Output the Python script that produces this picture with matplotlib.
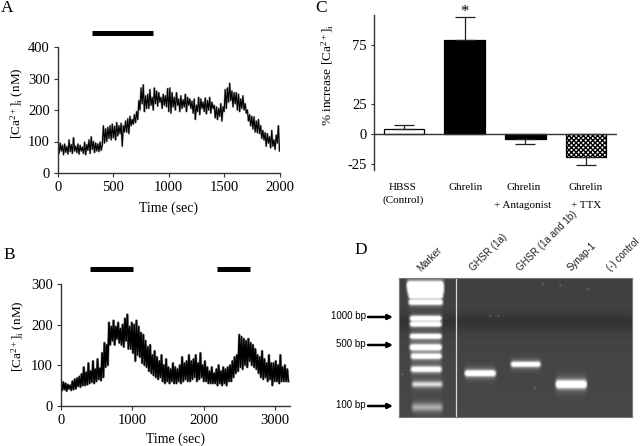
import numpy as np
import matplotlib
matplotlib.use('Agg')
import matplotlib.pyplot as plt

plt.rcParams['font.family'] = ['Liberation Serif', 'DejaVu Serif']
plt.rcParams['mathtext.fontset'] = 'custom'
plt.rcParams['mathtext.rm'] = 'Liberation Serif'
plt.rcParams['mathtext.it'] = 'Liberation Serif'
plt.rcParams['hatch.linewidth'] = 1.0

W, H = 640, 446
AXIS_COL = '#333333'

# panel A trace, one value every 10 s
a_step = 10
a_vals = [100, 62, 95, 70, 88, 58, 92, 66, 84, 60, 105,
          68, 90, 62, 112, 70, 85, 65, 92, 60, 88,
          70, 82, 62, 98, 58, 90, 72, 105, 62, 115,
          75, 100, 65, 95, 70, 92, 68, 98, 72, 88,
          150, 95, 140, 100, 145, 110, 150, 105, 155, 112,
          148, 105, 160, 118, 150, 125, 158, 85, 150, 130,
          165, 130, 172, 125, 180, 150, 170, 155, 185, 160,
          195, 170, 230, 200, 270, 220, 280, 195, 245, 205,
          250, 205, 265, 215, 240, 200, 270, 220, 260, 212,
          255, 225, 240, 205, 250, 215, 245, 210, 268, 195,
          270, 190, 255, 210, 240, 200, 255, 215, 235, 195,
          245, 205, 232, 210, 250, 195, 240, 215, 235, 205,
          228, 190, 235, 170, 215, 195, 240, 185, 235, 205,
          225, 195, 238, 188, 230, 200, 240, 190, 225, 205,
          215, 175, 210, 170, 205, 180, 220, 165, 210, 195,
          265, 205, 270, 225, 285, 230, 260, 210, 255, 220,
          255, 200, 250, 195, 235, 205, 245, 200, 220, 190,
          200, 165, 185, 150, 180, 140, 178, 130, 165, 128,
          170, 125, 150, 110, 135, 105, 128, 85, 125, 95,
          115, 80, 135, 85, 105, 75, 120, 95, 150, 70]
a_bars = [(310, 860)]

# panel B trace, one value every 16 s
b_step = 16
b_vals = [62, 38, 58, 40, 55, 36, 52, 42, 50, 38,
          60, 40, 65, 42, 68, 48, 72, 46, 78, 50,
          95, 50, 82, 52, 105, 55, 85, 58, 110, 55,
          90, 60, 115, 65, 92, 62, 130, 70, 155, 95,
          150, 100, 205, 150, 195, 160, 210, 150, 195, 165,
          205, 155, 190, 150, 200, 145, 215, 160, 225, 140,
          195, 140, 205, 130, 200, 110, 210, 125, 195, 120,
          180, 105, 175, 100, 160, 95, 145, 85, 150, 80,
          125, 75, 135, 70, 120, 65, 110, 70, 125, 60,
          100, 55, 115, 60, 95, 55, 90, 60, 105, 55,
          95, 55, 90, 60, 100, 55, 120, 60, 105, 65,
          110, 60, 125, 60, 110, 65, 115, 70, 125, 60,
          105, 65, 130, 70, 100, 60, 110, 60, 95, 55,
          85, 55, 95, 55, 80, 55, 90, 50, 100, 55,
          85, 50, 95, 55, 90, 50, 95, 60, 100, 60,
          110, 70, 120, 80, 125, 85, 175, 95, 170, 90,
          165, 100, 160, 95, 165, 110, 155, 100, 150, 95,
          140, 90, 125, 80, 120, 70, 135, 65, 115, 70,
          105, 60, 125, 65, 105, 50, 105, 60, 110, 60,
          100, 55, 125, 60, 95, 60, 100, 60, 90, 60]
b_bars = [(410, 1010), (2190, 2640)]

# panel C
c_labels = ['HBSS', 'Ghrelin', 'Ghrelin', 'Ghrelin']
c_vals = [4.5, 79, -3.6, -19]
c_errs = [3.5, 19, 4.4, 6.5]

# panel D, gel bands: (x left, x right, y, half height, brightness)
marker_bands = [(405, 445, 285, 4.0, 1.0), (406, 445, 291, 3.0, 0.9),
                (407, 444, 296, 1.8, 0.8), (407, 444, 302, 2.4, 0.95),
                (408, 443, 318, 2.4, 0.9), (408, 443, 324, 2.3, 0.9),
                (408, 443, 336, 2.4, 0.9), (408, 443, 347, 2.8, 0.95),
                (409, 443, 356, 2.6, 0.85), (409, 443, 369, 2.8, 0.8),
                (410, 444, 384, 3.0, 0.5), (410, 444, 407, 4.0, 0.33)]
sample_bands = [(463, 497, 373, 2.8, 0.95), (509, 542, 364, 2.6, 0.8),
                (554, 588, 384, 3.6, 1.0)]
speckles = [(543, 284), (560, 285), (588, 289), (498, 316), (490, 316),
            (402, 374), (535, 388)]
size_labels = ['1000 bp', '500 bp', '100 bp']
size_y = [317, 345, 406]
lane_labels = ['Marker', 'GHSR (1a)', 'GHSR (1a and 1b)', 'Synap-1', '(-) control']
lane_x = [423, 475, 522, 573, 612]


def px_axes(x0, x1, y_top, y_bot):
    return fig.add_axes([x0 / W, 1 - y_bot / H, (x1 - x0) / W, (y_bot - y_top) / H])


def style(ax):
    for s in ['top', 'right']:
        ax.spines[s].set_visible(False)
    for s in ['left', 'bottom']:
        ax.spines[s].set_color(AXIS_COL)
        ax.spines[s].set_linewidth(1.0)
    ax.tick_params(color=AXIS_COL, length=3, width=0.8, labelsize=10.5, pad=3)


fig = plt.figure(figsize=(W / 100, H / 100), dpi=100)

# A
ax_a = px_axes(58, 279.5, 47, 173)
ax_a.plot(np.arange(len(a_vals)) * a_step, a_vals, color='#555555', lw=1.5, alpha=0.5)
ax_a.plot(np.arange(len(a_vals)) * a_step, a_vals, color='black', lw=0.8)
ax_a.set_xlim(0, 2000)
ax_a.set_ylim(0, 400)
ax_a.set_xticks([0, 500, 1000, 1500, 2000])
ax_a.set_yticks([0, 100, 200, 300, 400])
style(ax_a)
ax_a.set_xlabel('Time (sec)', fontsize=10, labelpad=5)
for b in a_bars:
    ax_a.plot(b, [443, 443], color='black', lw=3.6, solid_capstyle='butt', clip_on=False)

# B
ax_b = px_axes(61, 289.5, 284, 405.7)
ax_b.plot(np.arange(len(b_vals)) * b_step, b_vals, color='#444444', lw=1.8, alpha=0.6)
ax_b.plot(np.arange(len(b_vals)) * b_step, b_vals, color='black', lw=1.1)
ax_b.set_xlim(0, 3200)
ax_b.set_ylim(0, 300)
ax_b.set_xticks([0, 1000, 2000, 3000])
ax_b.set_yticks([0, 100, 200, 300])
style(ax_b)
ax_b.set_xlabel('Time (sec)', fontsize=10, labelpad=4)
for b in b_bars:
    ax_b.plot(b, [337, 337], color='black', lw=3.6, solid_capstyle='butt', clip_on=False)

# C
ax_c = px_axes(374, 617, 15, 170)
xpos = [0, 1, 2, 3]
ax_c.bar(xpos[0], c_vals[0], 0.667, color='white', edgecolor='black', lw=0.9)
ax_c.bar(xpos[1], c_vals[1], 0.667, color='black', edgecolor='black', lw=0.9)
ax_c.bar(xpos[2], c_vals[2], 0.667, color='black', edgecolor='black', lw=0.9)
ax_c.bar(xpos[3], c_vals[3], 0.667, color='white', edgecolor='black', lw=0.9, hatch='xxxxxxx')
for x, v, e in zip(xpos, c_vals, c_errs):
    sign = 1 if v > 0 else -1
    ax_c.errorbar(x, v, yerr=[[e if sign < 0 else 0], [e if sign > 0 else 0]], color='#222222',
                  capsize=7.5, elinewidth=0.9, capthick=0.9)
ax_c.axhline(0, color=AXIS_COL, lw=1.0)
ax_c.text(1, 102.5, '*', ha='center', va='center', fontsize=12)
ax_c.set_xlim(-0.494, 3.51)
ax_c.set_ylim(-30, 100)
ax_c.set_yticks([-25, 0, 25, 75])
ax_c.set_yticklabels(['-25', '0', '25', '75'])
ax_c.set_xticks([])
style(ax_c)
ax_c.spines['bottom'].set_visible(False)
ax_c.tick_params(axis='y', length=2, labelsize=10.5)

# D
gel_x0, gel_x1, gel_y0, gel_y1 = 399, 632, 278, 417
xx, yy = np.meshgrid(np.arange(gel_x0, gel_x1, 0.5), np.arange(gel_y0, gel_y1, 0.5))
gel = 0.25 - 0.06 * np.exp(-((yy - 322) / 9.0) ** 2) + 0.03 * (yy - gel_y0) / (gel_y1 - gel_y0)
for x0, x1, y, hh, level in marker_bands + sample_bands:
    edge = np.clip((xx - x0) / 4, 0, 1) * np.clip((x1 - xx) / 4, 0, 1)
    # bright core plus a soft grey halo round each band
    gel = gel + level * edge * np.exp(-((yy - y) / hh) ** 2)
    gel = gel + 0.22 * level * edge * np.exp(-((yy - y) / (hh * 2.2)) ** 2)
for x, y in speckles:
    gel = gel + 0.2 * np.exp(-((xx - x) ** 2 + (yy - y) ** 2) / 1.0)
ax_d = px_axes(gel_x0, gel_x1, gel_y0, gel_y1)
ax_d.imshow(np.clip(gel, 0, 1), cmap='gray', vmin=0, vmax=1, aspect='auto',
            extent=[gel_x0, gel_x1, gel_y1, gel_y0], interpolation='bilinear')
ax_d.axvline(455.7, color='#d8d8d8', lw=0.9)
ax_d.set_xticks([])
ax_d.set_yticks([])
for s in ax_d.spines.values():
    s.set_color('#777777')
    s.set_linewidth(0.8)

# text layer in pixel coordinates
over = fig.add_axes([0, 0, 1, 1], facecolor='none')
over.set_xlim(0, W)
over.set_ylim(H, 0)
over.axis('off')
for name, x, y in [('A', 7, 8), ('B', 9, 255), ('C', 321, 8), ('D', 361, 250)]:
    over.text(x, y, name, ha='center', va='center', fontsize=12.5)

ca_label = r'[Ca$^{2+}$]$_{\mathrm{i}}$ (nM)'
over.text(17, 103, ca_label, rotation=90, ha='center', va='center', fontsize=9.5)
over.text(18, 336, ca_label, rotation=90, ha='center', va='center', fontsize=9.5)
over.text(328, 75, r'% increase [Ca$^{2+}$]$_{\mathrm{i}}$', rotation=90, ha='center', va='center',
          fontsize=9.5)

for lab, x in zip(c_labels, [403, 466, 523.5, 586]):
    over.text(x, 187, lab, ha='center', va='center', fontsize=8)
for x, y, t in [(403, 200, '(Control)'), (523, 206, '+ Antagonist'), (586, 206, '+ TTX')]:
    over.text(x, y, t, ha='center', va='center', fontsize=8)

for lab, y in zip(size_labels, size_y):
    over.text(366, y - 1, lab, ha='right', va='center', fontsize=7, family='Liberation Sans')
    over.annotate('', xy=(393, y), xytext=(368, y),
                  arrowprops=dict(arrowstyle='-|>', color='black', lw=1.8, mutation_scale=7,
                                  shrinkA=0, shrinkB=0))
for lab, x in zip(lane_labels, lane_x):
    over.text(x, 273, lab, rotation=45, rotation_mode='anchor', ha='left', va='bottom',
              fontsize=7, family='Liberation Sans', color='#222222', clip_on=False)

fig.savefig('out.png', dpi=100)
